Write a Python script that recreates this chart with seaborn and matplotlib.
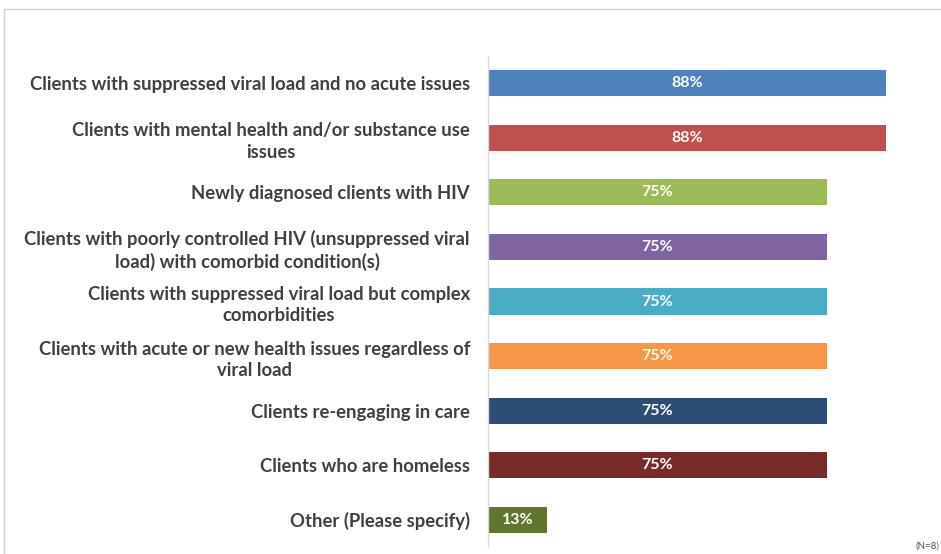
import matplotlib
matplotlib.use("Agg")
import matplotlib.pyplot as plt
from matplotlib.lines import Line2D
import seaborn as sns
import pandas as pd

categories = [
    "Clients with suppressed viral load and no acute issues",
    "Clients with mental health and/or substance use\nissues",
    "Newly diagnosed clients with HIV",
    "Clients with poorly controlled HIV (unsuppressed viral\nload) with comorbid condition(s)",
    "Clients with suppressed viral load but complex\ncomorbidities",
    "Clients with acute or new health issues regardless of\nviral load",
    "Clients re-engaging in care",
    "Clients who are homeless",
    "Other (Please specify)",
]
values = [88, 88, 75, 75, 75, 75, 75, 75, 13]
colors = ["#4F81BD", "#C0504D", "#9BBB59", "#8064A2", "#4BACC6",
          "#F79646", "#2C4D75", "#772C2A", "#5F7530"]

df = pd.DataFrame({"category": categories, "value": values})

sns.set_theme(style="white")
plt.rcParams["font.family"] = ["Lato", "DejaVu Sans"]

fig = plt.figure(figsize=(9.41, 5.54), dpi=100)
ax = fig.add_axes([488 / 941, 7 / 554, 452 / 941, 491 / 554])

sns.barplot(data=df, x="value", y="category", hue="category",
            palette=colors, legend=False, width=0.48, ax=ax,
            saturation=1, edgecolor="none")

ax.set_xlim(0, 100)
ax.set_xlabel("")
ax.set_ylabel("")
ax.set_xticks([])

for i, v in enumerate(values):
    ax.text(v / 2, i, f"{v}%", ha="center", va="center",
            color="white", fontsize=11.5, fontweight="bold")

ax.tick_params(axis="y", length=0, pad=13, labelsize=13.3,
               labelcolor="#404040")
for lbl in ax.get_yticklabels():
    lbl.set_fontweight("bold")
    lbl.set_multialignment("center")
    lbl.set_linespacing(1.3)

for s in ["top", "right", "bottom"]:
    ax.spines[s].set_visible(False)
ax.spines["left"].set_color("#D9D9D9")
ax.spines["left"].set_linewidth(1)

# outer frame edges
fig.add_artist(Line2D([4 / 941, 1], [1 - 9 / 554, 1 - 9 / 554],
                      transform=fig.transFigure, color="#D0D0D0", lw=1))
fig.add_artist(Line2D([4 / 941, 4 / 941], [0, 1 - 9 / 554],
                      transform=fig.transFigure, color="#D0D0D0", lw=1))

fig.text(939 / 941, 3 / 554, "(N=8)", fontsize=7, color="#595959",
         ha="right", va="bottom")

fig.savefig("out.png", dpi=100)
